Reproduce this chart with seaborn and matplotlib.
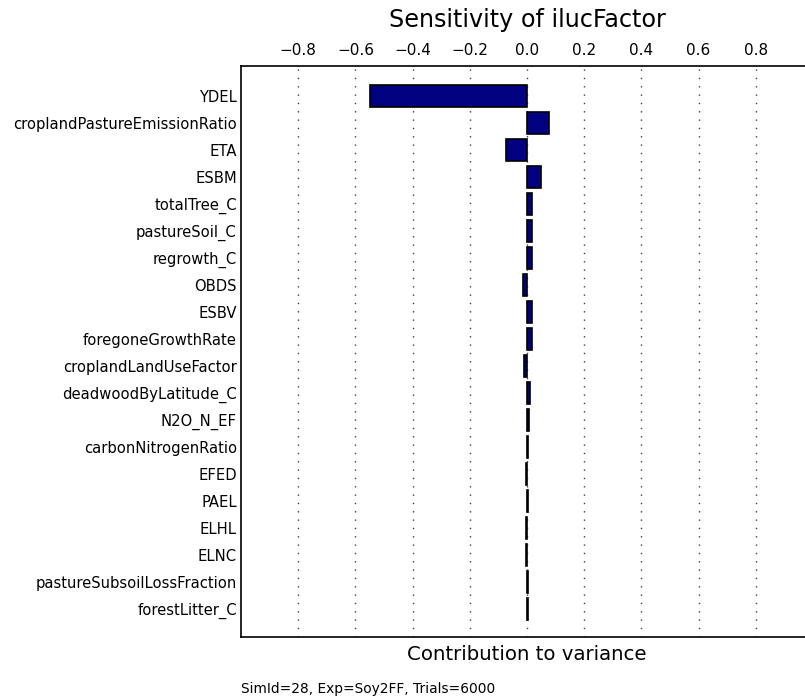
import matplotlib
matplotlib.use("Agg")
import matplotlib.pyplot as plt
import numpy as np
import pandas as pd
import seaborn as sns

# --- data ---
params = ["YDEL", "croplandPastureEmissionRatio", "ETA", "ESBM", "totalTree_C",
          "pastureSoil_C", "regrowth_C", "OBDS", "ESBV", "foregoneGrowthRate",
          "croplandLandUseFactor", "deadwoodByLatitude_C", "N2O_N_EF",
          "carbonNitrogenRatio", "EFED", "PAEL", "ELHL", "ELNC",
          "pastureSubsoilLossFraction", "forestLitter_C"]
contrib = [-0.549, 0.077, -0.073, 0.049, 0.019,
           0.018, 0.017, -0.014, 0.017, 0.016,
           -0.012, 0.012, 0.006,
           0.005, -0.004, 0.004, -0.003, -0.003,
           0.003, 0.002]
xticks = [-0.8, -0.6, -0.4, -0.2, 0.0, 0.2, 0.4, 0.6, 0.8]
title = "Sensitivity of ilucFactor"
xlabel = "Contribution to variance"
footnote = "SimId=28, Exp=Soy2FF, Trials=6000"

df = pd.DataFrame({"param": params, "contrib": contrib})

sns.set_style("white", {"text.color": "black", "xtick.color": "black",
                        "ytick.color": "black", "axes.labelcolor": "black"})
plt.rcParams['font.family'] = ['DejaVu Sans']

fig = plt.figure(figsize=(8.05, 6.98), dpi=100)
ax = fig.add_axes([241 / 805, 61 / 698, 572 / 805, 571 / 698])

sns.barplot(data=df, x="contrib", y="param", orient="h", color="#000080",
            saturation=1, edgecolor="black", linewidth=1.2, width=0.8, ax=ax)

ax.set_xlim(-1, 1)
ax.set_ylim(len(params) - 1 + 1.04, -1.12)
ax.xaxis.tick_top()
ax.set_xticks(xticks)
ax.set_xticklabels([f"{t:.1f}".replace("-", "\u2212") for t in xticks], fontsize=11)
ax.tick_params(axis="x", length=0, pad=6)
ax.tick_params(axis="y", length=0, pad=3, labelsize=10.6)
ax.grid(axis="x", linestyle=(0, (1, 5)), color="0.25", linewidth=1.0)
ax.set_axisbelow(True)

for side in ["left", "top", "bottom"]:
    ax.spines[side].set_color("black")
    ax.spines[side].set_linewidth(1.2)
ax.spines["right"].set_visible(False)

ax.set_ylabel("")
ax.set_xlabel("")
fig.text(527 / 805, 1 - 20 / 698, title, ha="center", va="center", fontsize=17.2)
fig.text(527 / 805, 1 - 655 / 698, xlabel, ha="center", va="center", fontsize=14.2)
fig.text(241 / 805, 1 - 689 / 698, footnote, ha="left", va="center", fontsize=9.9)

fig.savefig("out.png", dpi=100)
